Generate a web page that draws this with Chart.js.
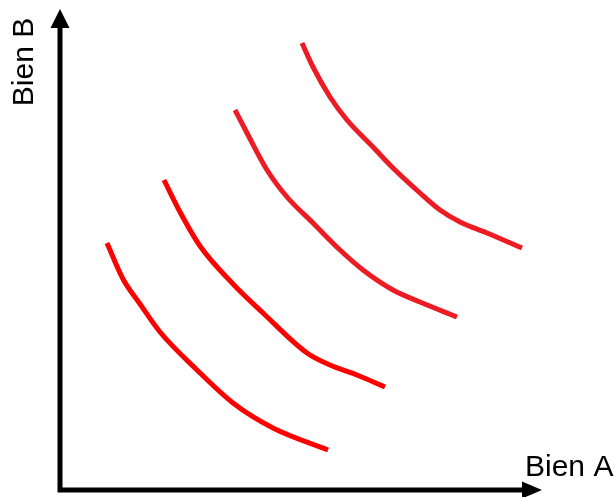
<!DOCTYPE html>
<html>
<head>
<meta charset="utf-8">
<script src="https://cdn.jsdelivr.net/npm/chart.js@4/dist/chart.umd.min.js"></script>
<style>
    body { margin: 0; background: #fff; }
</style>
</head>
<body>
<canvas id="chart" width="616" height="497"></canvas>
<script>
// indifference curves
const curve1X = [47, 63, 80, 100, 137, 173, 213, 268];
const curve1Y = [247, 211, 186, 158, 120, 87, 62, 40];
const curve2X = [104, 120, 140, 173, 203, 247, 270, 297, 325];
const curve2Y = [310, 278, 244, 206, 177, 137, 125, 115, 103];
const curve3X = [175, 187, 207, 227, 253, 280, 303, 333, 360, 397];
const curve3Y = [380, 357, 320, 293, 267, 240, 220, 200, 188, 173];
const curve4X = [242, 253, 270, 287, 313, 333, 360, 380, 400, 427, 462];
const curve4Y = [447, 423, 393, 370, 343, 322, 297, 280, 268, 257, 242];

const xLabel = "Bien A";
const yLabel = "Bien B";

function toPoints(xs, ys) {
    return xs.map((x, i) => ({ x: x, y: ys[i] }));
}

function curve(xs, ys, color) {
    return {
        data: toPoints(xs, ys),
        borderColor: color,
        borderWidth: 5,
        pointRadius: 0,
        cubicInterpolationMode: "monotone",
        fill: false
    };
}

// black axes with arrow heads and the two labels
const axesPlugin = {
    id: "axes",
    afterDraw(chart) {
        const ctx = chart.ctx;
        const a = chart.chartArea;
        ctx.save();
        ctx.strokeStyle = "#000";
        ctx.fillStyle = "#000";
        ctx.lineWidth = 5;
        ctx.beginPath();
        ctx.moveTo(a.left, a.bottom + 2.5);
        ctx.lineTo(a.left, a.top + 18);
        ctx.moveTo(a.left - 2.5, a.bottom);
        ctx.lineTo(a.right - 18, a.bottom);
        ctx.stroke();

        ctx.beginPath();
        ctx.moveTo(a.left, a.top);
        ctx.lineTo(a.left - 9.5, a.top + 19);
        ctx.lineTo(a.left + 9.5, a.top + 19);
        ctx.closePath();
        ctx.fill();

        ctx.beginPath();
        ctx.moveTo(a.right, a.bottom);
        ctx.lineTo(a.right - 20, a.bottom - 8.5);
        ctx.lineTo(a.right - 20, a.bottom + 8.5);
        ctx.closePath();
        ctx.fill();

        ctx.font = '30px "Liberation Sans", Arial, sans-serif';
        ctx.textAlign = "left";
        ctx.textBaseline = "alphabetic";
        ctx.fillText(xLabel, a.right - 17, a.bottom - 14);

        ctx.translate(a.left - 27, a.top + 53);
        ctx.rotate(-Math.PI / 2);
        ctx.textAlign = "center";
        ctx.fillText(yLabel, 0, 0);
        ctx.restore();
    }
};

new Chart(document.getElementById("chart"), {
    type: "line",
    data: {
        datasets: [
            curve(curve1X, curve1Y, "#ff0000"),
            curve(curve2X, curve2Y, "#ff0000"),
            curve(curve3X, curve3Y, "#ed1c24"),
            curve(curve4X, curve4Y, "#ed1c24")
        ]
    },
    options: {
        responsive: false,
        animation: false,
        layout: { padding: { left: 60, top: 9, right: 74, bottom: 7 } },
        plugins: { legend: { display: false }, tooltip: { enabled: false } },
        scales: {
            x: { type: "linear", min: 0, max: 482, display: false },
            y: { type: "linear", min: 0, max: 481, display: false }
        }
    },
    plugins: [axesPlugin]
});
</script>
</body>
</html>
